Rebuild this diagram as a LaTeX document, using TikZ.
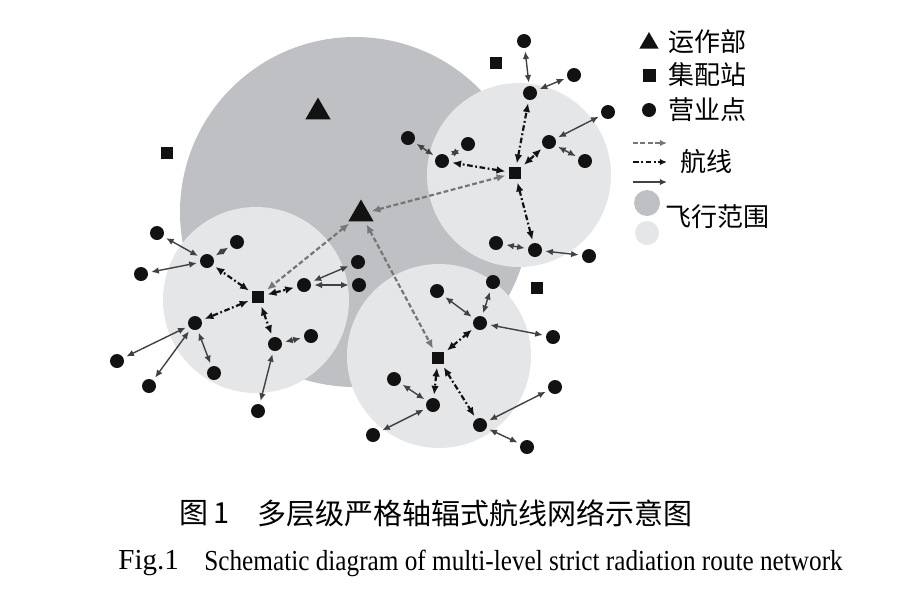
\documentclass[tikz,border=0pt]{standalone}
\usepackage{fontspec}
\setmainfont{Liberation Serif}
\newfontfamily\cjkfont{Noto Sans CJK SC}
\usetikzlibrary{arrows.meta,shapes.geometric}
\definecolor{rangedark}{HTML}{BEC0C3}
\definecolor{rangelight}{HTML}{E4E6E8}
\definecolor{trunkgray}{HTML}{767676}
\definecolor{ink}{HTML}{121212}
\tikzset{
  opnode/.style={regular polygon,regular polygon sides=3,fill=ink,inner sep=0pt,minimum size=14.5pt},
  hubnode/.style={rectangle,fill=ink,inner sep=0pt,minimum size=6.3pt},
  ptnode/.style={circle,fill=ink,inner sep=0pt,minimum size=7pt},
  trunk/.style={trunkgray,line width=1.1pt,dash pattern=on 2.4pt off 1.3pt,{Latex[length=4.4pt,width=3.8pt]}-{Latex[length=4.4pt,width=3.8pt]},shorten <=1.5pt,shorten >=1.5pt},
  feeder/.style={ink,line width=1.1pt,dash pattern=on 2.8pt off 1.3pt on 0.9pt off 1.3pt,{Latex[length=4.4pt,width=3.8pt]}-{Latex[length=4.4pt,width=3.8pt]},shorten <=1.5pt,shorten >=1.5pt},
  local/.style={ink!80,line width=0.7pt,{Latex[length=3.8pt,width=3.3pt]}-{Latex[length=3.8pt,width=3.3pt]},shorten <=1.5pt,shorten >=1.5pt},
  legtext/.style={font=\cjkfont\fontsize{13}{15}\selectfont,anchor=west,inner sep=0pt}
}

\begin{document}
\begin{tikzpicture}[x=0.5pt,y=-0.5pt]
        \useasboundingbox (0,0) rectangle (900,591);
        \fill[rangedark] (355,212) circle[radius=87.5pt];
        \fill[rangelight] (519,175) circle[radius=46pt];
        \fill[rangelight] (256,300) circle[radius=46.5pt];
        \fill[rangelight] (439,356) circle[radius=46pt];

        \node[opnode] (opbig) at (318,112) {};
        \node[opnode] (opmain) at (361,214) {};
        \node[hubnode] (sqa) at (167,153) {};
        \node[hubnode] (sqb) at (496,63) {};
        \node[hubnode] (sqc) at (537,288) {};
        \node[hubnode] (hubA) at (515,173) {};
        \node[hubnode] (hubB) at (258,297) {};
        \node[hubnode] (hubC) at (438,358) {};

        \foreach \n/\x/\y in {a1/524/41,a2/530/93,a3/574/75,a4/608/112,a5/549/142,a6/585/161,
            a7/468/144,a8/442/161,a9/535/250,a10/496/243,a11/589/256,a12/408/138,
            b1/207/261,b2/157/233,b3/237/242,b4/141/274,b5/304/285,b6/358/262,b7/359/285,
            b8/195/323,b9/117/361,b10/149/386,b11/214/373,b12/275/344,b13/311/336,b14/258/411,
            c1/480/323,c2/437/291,c3/493/282,c4/553/337,c5/433/405,c6/394/379,c7/373/435,
            c8/480/425,c9/555/387,c10/527/447}
          \node[ptnode] (\n) at (\x,\y) {};

        \foreach \u in {hubA,hubB,hubC}
          \draw[trunk] (opmain) -- (\u);
        \foreach \u/\v in {hubA/a2,hubA/a5,hubA/a8,hubA/a9,hubB/b1,hubB/b5,hubB/b8,hubB/b12,
            hubC/c1,hubC/c5,hubC/c8}
          \draw[feeder] (\u) -- (\v);
        \foreach \u/\v in {a2/a1,a2/a3,a5/a4,a5/a6,a8/a7,a8/a12,a9/a10,a9/a11,
            b1/b2,b1/b3,b1/b4,b5/b6,b5/b7,b8/b9,b8/b10,b8/b11,b12/b13,b12/b14,
            c1/c2,c1/c3,c1/c4,c5/c6,c5/c7,c8/c9,c8/c10}
          \draw[local] (\u) -- (\v);

        % legend
        \node[opnode,minimum size=11pt] (legop) at (649,43) {};
        \node[legtext] (legoptext) at (668,42) {运作部};
        \node[hubnode,minimum size=6.5pt] (leghub) at (649,75) {};
        \node[legtext] (leghubtext) at (668,75) {集配站};
        \node[ptnode] (legpt) at (649,110) {};
        \node[legtext] (legpttext) at (668,110) {营业点};
        \coordinate (trunkL) at (630,143); \coordinate (trunkR) at (670,143);
        \coordinate (feedL) at (630,162); \coordinate (feedR) at (670,162);
        \coordinate (localL) at (630,182); \coordinate (localR) at (670,182);
        \draw[trunk,-{Latex[length=3.6pt,width=3.2pt]}] (trunkL) -- (trunkR);
        \draw[feeder,-{Latex[length=3.6pt,width=3.2pt]}] (feedL) -- (feedR);
        \draw[local,-{Latex[length=3.6pt,width=3.2pt]}] (localL) -- (localR);
        \node[legtext] (legroute) at (680,162) {航线};
        \node[circle,fill=rangedark,minimum size=13pt,inner sep=0pt] (legdark) at (647,203) {};
        \node[circle,fill=rangelight,minimum size=12pt,inner sep=0pt] (leglight) at (647,233) {};
        \node[legtext] (legrange) at (665,217) {飞行范围};

        % caption
        \node[font=\cjkfont\fontsize{14.5}{16}\selectfont,anchor=west,inner sep=0pt] (figcn) at (179,513) {图\,1};
        \node[font=\cjkfont\fontsize{14.5}{16}\selectfont,anchor=west,inner sep=0pt] (titlecn) at (257,513) {多层级严格轴辐式航线网络示意图};
        \node[font=\fontsize{14.5}{16}\selectfont,anchor=west,inner sep=0pt] (figen) at (118,563) {Fig.1};
        \node[font=\fontsize{14.5}{16}\selectfont,anchor=west,inner sep=0pt] (titleen) at (204,563) {\scalebox{0.87}[1]{Schematic diagram of multi-level strict radiation route network}};
      \end{tikzpicture}
\end{document}
